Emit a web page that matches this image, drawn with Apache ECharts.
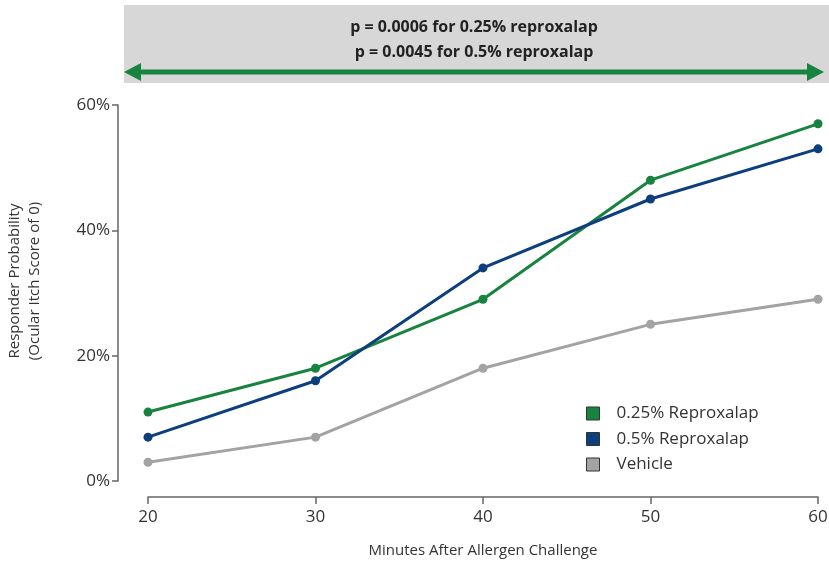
<!DOCTYPE html>
<html><head><meta charset="utf-8">
<script src="https://cdn.jsdelivr.net/npm/echarts@6/dist/echarts.min.js"></script>
<style>html,body{margin:0;padding:0;background:#fff}#c{width:829px;height:569px}</style>
</head><body><div id="c"></div>
<script>
const minutes = [20, 30, 40, 50, 60];
const reprox025 = [11, 18, 29, 48, 57];
const reprox05 = [7, 16, 34, 45, 53];
const vehicle = [3, 7, 18, 25, 29];
const yTicks = [0, 20, 40, 60];
const seriesNames = ['0.25% Reproxalap', '0.5% Reproxalap', 'Vehicle'];
const colors = ['#18833f', '#0d3f7d', '#a3a3a3'];
const headerLines = ['p = 0.0006 for 0.25% reproxalap', 'p = 0.0045 for 0.5% reproxalap'];
const yAxisTitle = 'Responder Probability\n(Ocular Itch Score of 0)';

const font = 'Open Sans, Lato, sans-serif';
const chart = echarts.init(document.getElementById('c'));
const pair = (arr) => minutes.map((m, i) => [m, arr[i]]);
const mk = (name, data, color) => ({
  name, type: 'line', data: pair(data), color,
  lineStyle: { width: 3, color }, symbol: 'circle', symbolSize: 9,
  itemStyle: { color, borderColor: '#333', borderWidth: 0 }, z: 3
});
chart.setOption({
  animation: false,
  textStyle: { fontFamily: font },
  grid: { left: 148, right: 11, top: 105, bottom: 88, outerBoundsMode: 'none', containLabel: false },
  xAxis: {
    type: 'value', min: 20, max: 60, interval: 10, offset: 16,
    name: 'Minutes After Allergen Challenge', nameLocation: 'middle', nameGap: 46,
    nameTextStyle: { fontSize: 15, color: '#333', fontFamily: font },
    axisLine: { show: true, onZero: false, lineStyle: { color: '#666', width: 1.5 } },
    axisTick: { show: true, length: 7, lineStyle: { color: '#666', width: 1.5 } },
    axisLabel: { fontSize: 17, color: '#333', margin: 12 },
    splitLine: { show: false }
  },
  yAxis: {
    type: 'value', min: yTicks[0], max: yTicks[yTicks.length - 1], interval: 20, offset: 30,
    axisLine: { show: true, onZero: false, lineStyle: { color: '#666', width: 1.5 } },
    axisTick: { show: true, length: 6, lineStyle: { color: '#666', width: 1.5 } },
    axisLabel: { fontSize: 17, color: '#333', margin: 8, formatter: '{value}%' },
    splitLine: { show: false }
  },
  legend: {
    orient: 'vertical', left: 581, top: 400, itemGap: 8.5, itemWidth: 13, itemHeight: 13,
    icon: 'rect', data: seriesNames,
    itemStyle: { borderColor: '#333', borderWidth: 1 },
    textStyle: { fontSize: 17, color: '#333', lineHeight: 13, padding: [0, 0, 0, 12] }
  },
  series: [mk(seriesNames[0], reprox025, colors[0]), mk(seriesNames[1], reprox05, colors[1]), mk(seriesNames[2], vehicle, colors[2])],
  graphic: [
    { type: 'rect', shape: { x: 124, y: 5, width: 705, height: 78 }, style: { fill: '#d7d7d7' }, z: 1 },
    { type: 'text', x: 474, y: 27, style: { text: headerLines[0], fontSize: 16, fontWeight: 'bold', fill: '#222', align: 'center', verticalAlign: 'middle', fontFamily: font }, z: 2 },
    { type: 'text', x: 474, y: 52, style: { text: headerLines[1], fontSize: 16, fontWeight: 'bold', fill: '#222', align: 'center', verticalAlign: 'middle', fontFamily: font }, z: 2 },
    { type: 'line', shape: { x1: 138, y1: 72, x2: 810, y2: 72 }, style: { stroke: '#18833f', lineWidth: 5 }, z: 2 },
    { type: 'polygon', shape: { points: [[124, 72], [141, 63], [141, 81]] }, style: { fill: '#18833f' }, z: 2 },
    { type: 'polygon', shape: { points: [[824, 72], [807, 63], [807, 81]] }, style: { fill: '#18833f' }, z: 2 },
    { type: 'text', x: 25, y: 281, rotation: Math.PI / 2, style: { text: yAxisTitle, fontSize: 15, lineHeight: 20, fill: '#333', align: 'center', verticalAlign: 'middle', fontFamily: font }, z: 2 }
  ]
});
</script></body></html>
